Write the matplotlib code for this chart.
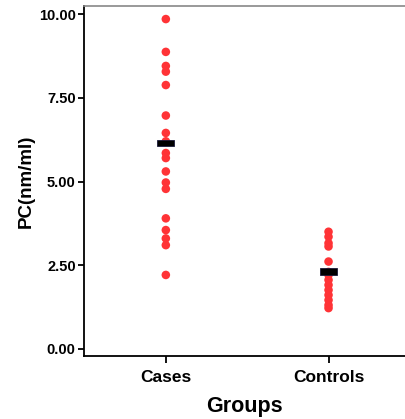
import matplotlib
matplotlib.use("Agg")
import matplotlib.pyplot as plt
import numpy as np

plt.rcParams['font.family'] = ['Liberation Sans', 'DejaVu Sans']

groups = ['Cases', 'Controls']
cases = [9.85, 8.87, 8.45, 8.28, 7.88, 6.97, 6.45, 6.2, 5.85, 5.7, 5.3,
         4.97, 4.78, 3.9, 3.55, 3.3, 3.1, 2.21]
controls = [3.5, 3.35, 3.16, 3.06, 2.61, 2.3, 2.21, 2.06, 1.91, 1.76,
            1.61, 1.46, 1.31, 1.22]
means = [6.15, 2.31]
yticks = [0, 2.5, 5, 7.5, 10]

fig = plt.figure(figsize=(4.05, 4.19), dpi=100)
ax = fig.add_axes([84/405, 63/419, 1 - 84/405, (356-6)/419])

for i, vals in enumerate([cases, controls]):
    ax.scatter(np.full(len(vals), i + 1), vals, s=38, color='#FF3336',
               edgecolors='none', zorder=2)

ax.bar([1, 2], height=0.2, bottom=np.array(means) - 0.1, width=0.105,
       color='black', edgecolor='#1a1a3a', linewidth=0.6, zorder=3)

ax.set_xlim(0.497, 2.47)
ax.set_ylim(-0.21, 10.24)
ax.set_xticks([1, 2])
ax.set_xticklabels(groups, fontsize=12.5, fontweight='bold')
ax.set_yticks(yticks)
ax.set_yticklabels(['%.2f' % v for v in yticks], fontsize=10.5, fontweight='bold')
ax.tick_params(axis='y', length=4, width=1.3, pad=2, color='black')
ax.tick_params(axis='x', length=5, width=1.3, pad=5, color='black')
ax.set_xlabel('Groups', fontsize=15.5, fontweight='bold', labelpad=8)
ax.set_ylabel('PC(nm/ml)', fontsize=13.5, fontweight='bold', labelpad=3)

for s in ['left', 'bottom']:
    ax.spines[s].set_linewidth(1.3)
    ax.spines[s].set_color('black')
ax.spines['right'].set_visible(False)
ax.spines['top'].set_color('#888888')
ax.spines['top'].set_linewidth(1.2)

fig.savefig('out.png', dpi=100)
